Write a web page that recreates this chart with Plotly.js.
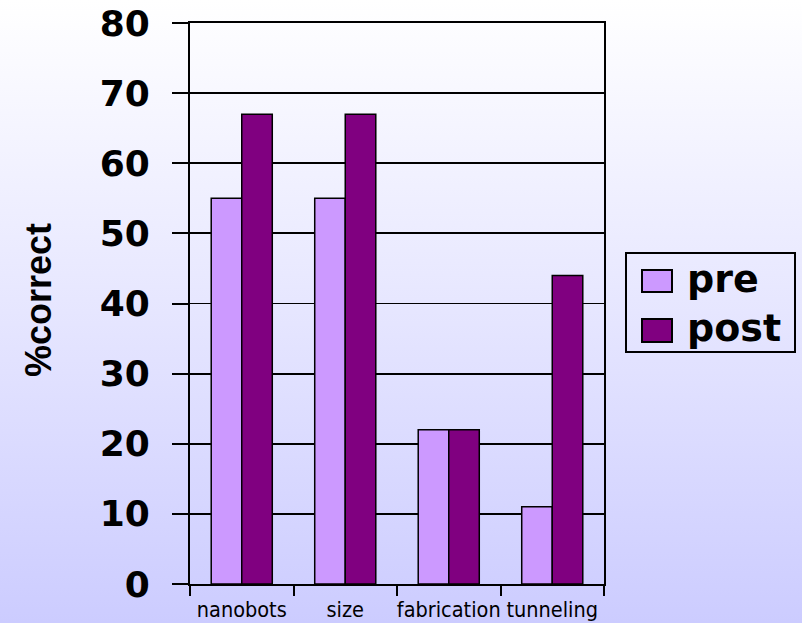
<!DOCTYPE html>
<html>
<head>
<meta charset="utf-8">
<script src="https://cdn.plot.ly/plotly-3.0.1.min.js"></script>
<style>
  html, body { margin: 0; padding: 0; }
  body { width: 802px; height: 623px; overflow: hidden;
         background: linear-gradient(to bottom, #FFFFFF 0%, #E6E6FF 50%, #CCCCFF 100%); }
  #chart { width: 802px; height: 623px; }
</style>
</head>
<body>
<div id="chart"></div>
<script>
const categories = ["nanobots", "size", "fabrication", "tunneling"];
const preValues = [55, 55, 22, 11];
const postValues = [67, 67, 22, 44];
const seriesNames = ["pre", "post"];
const preColor = "#CC99FF";
const postColor = "#800080";
const yTicks = [0, 10, 20, 30, 40, 50, 60, 70, 80];

// plot area in pixels (for paper-coordinate conversions of the legend box)
const L = 190, R = 604, T = 23, B = 584;
const px = x => (x - L) / (R - L);
const py = y => (B - y) / (B - T);

const traces = [
  { type: "bar", name: seriesNames[0], x: categories, y: preValues,
    marker: { color: preColor, line: { color: "#000", width: 1.5 } }, showlegend: false },
  { type: "bar", name: seriesNames[1], x: categories, y: postValues,
    marker: { color: postColor, line: { color: "#000", width: 1.5 } }, showlegend: false }
];

const legendFont = { family: "DejaVu Sans", size: 38, color: "#000", weight: "bold" };

const layout = {
  width: 802, height: 623,
  margin: { l: L, r: 802 - R, t: T, b: 623 - B, pad: 0 },
  paper_bgcolor: "rgba(0,0,0,0)",
  plot_bgcolor: "rgba(0,0,0,0)",
  barmode: "group",
  bargap: 0.41,
  bargroupgap: 0,
  showlegend: false,
  xaxis: {
    type: "category",
    tickson: "boundaries",
    tickangle: 0,
    ticks: "outside", ticklen: 10, tickwidth: 2, tickcolor: "#000",
    showline: true, linecolor: "#000", linewidth: 2, mirror: true,
    showgrid: false,
    ticklabelstandoff: 5,
    tickfont: { family: "DejaVu Sans Condensed, DejaVu Sans", size: 21.5, color: "#000" },
    automargin: false
  },
  yaxis: {
    range: [0, 80],
    tickvals: yTicks,
    ticktext: yTicks.map(String),
    ticks: "outside", ticklen: 16, tickwidth: 2, tickcolor: "#000",
    showline: true, linecolor: "#000", linewidth: 2, mirror: true,
    showgrid: true, gridcolor: "#000", gridwidth: 1.8,
    zeroline: false,
    ticklabelstandoff: 15,
    tickfont: { family: "DejaVu Sans", size: 36, color: "#000", weight: "bold" },
    automargin: false
  },
  shapes: [
    { type: "rect", xref: "paper", yref: "paper",
      x0: px(626), x1: px(795), y0: py(352), y1: py(253),
      line: { color: "#000", width: 2 }, fillcolor: "rgba(0,0,0,0)" },
    { type: "rect", xref: "paper", yref: "paper",
      x0: px(642), x1: px(672), y0: py(292), y1: py(270),
      line: { color: "#000", width: 2 }, fillcolor: preColor },
    { type: "rect", xref: "paper", yref: "paper",
      x0: px(642), x1: px(672), y0: py(342), y1: py(319),
      line: { color: "#000", width: 2 }, fillcolor: postColor }
  ],
  annotations: [
    { xref: "paper", yref: "paper", x: px(38), y: py(300), text: "%correct",
      textangle: -90, showarrow: false, xanchor: "center", yanchor: "middle",
      font: { family: "Liberation Sans", size: 36, color: "#000", weight: "bold" } },
    { xref: "paper", yref: "paper", x: px(685), y: py(279), text: seriesNames[0],
      showarrow: false, xanchor: "left", yanchor: "middle", font: legendFont },
    { xref: "paper", yref: "paper", x: px(685), y: py(328), text: seriesNames[1],
      showarrow: false, xanchor: "left", yanchor: "middle", font: legendFont }
  ]
};

Plotly.newPlot("chart", traces, layout, { staticPlot: true, displayModeBar: false });
</script>
</body>
</html>
